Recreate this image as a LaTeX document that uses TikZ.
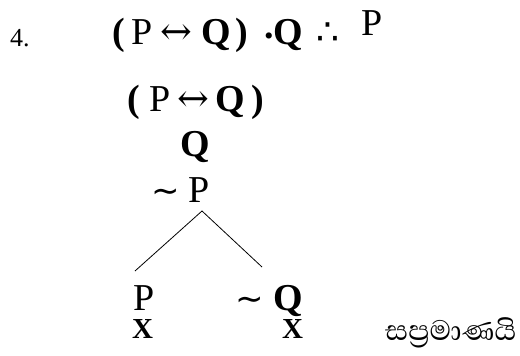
\documentclass[tikz,border=0pt]{standalone}
\usepackage{fontspec}
\setmainfont{Liberation Serif}
\newfontfamily\symbfont{DejaVu Serif}
\newfontfamily\symbsans{DejaVu Sans}
\newfontfamily\sinhala[Script=Sinhala]{Abhaya Libre}
\usetikzlibrary{positioning}
\newcommand{\biarrow}{{\symbfont\fontsize{38}{40}\selectfont ↔}}
\newcommand{\negsign}{{\symbsans\fontsize{34}{36}\selectfont ∼}}

\begin{document}
\begin{tikzpicture}[
  x=1pt, y=-1pt,
  fml/.style={anchor=base west, inner sep=0pt, font=\fontsize{38}{42}\selectfont},
  closed/.style={anchor=base west, inner sep=0pt, font=\fontsize{29}{32}\selectfont\bfseries},
  branch/.style={line width=0.8pt}
]
\useasboundingbox (0,0) rectangle (520,356);
\node[anchor=base west, inner sep=0pt, font=\fontsize{26}{28}\selectfont] (num) at (10,46) {4.};
\node[fml] (prem) at (112,45) {\textbf{(}\kern7pt P\kern8pt\biarrow\kern9pt\textbf{Q}\kern4pt\textbf{)}};
\node[fml] (conj) at (264,45) {\raisebox{6pt}{\textbf{.}}\textbf{Q}};
\node[fml, font=\symbsans\fontsize{36}{42}\selectfont] (ther) at (316,45) {∴};
\node[fml] (concl) at (361,35) {P};
\node[fml] (row1) at (127,111) {\textbf{(}\kern10pt P\kern7pt\biarrow\kern6pt\textbf{Q}\kern6pt\textbf{)}};
\node[fml] (row2) at (180,156) {\textbf{Q}};
\node[fml] (row3) at (151,202) {\negsign\kern9pt P};
\node[fml] (leafl) at (133,310) {P};
\node[fml] (leafr) at (235,310) {\negsign\kern10pt\textbf{Q}};
\node[closed] (xl) at (132,338) {X};
\node[closed] (xr) at (282,338) {X};
\node[anchor=base west, inner sep=0pt, font=\sinhala\fontsize{36}{40}\selectfont] (verdict) at (385,340) {සප්‍රමාණයි};

\coordinate (top) at (202,211);
\coordinate (endl) at (135,271);
\coordinate (endr) at (262,267);
\draw[branch] (endl) -- (top) -- (endr);
\end{tikzpicture}
\end{document}
